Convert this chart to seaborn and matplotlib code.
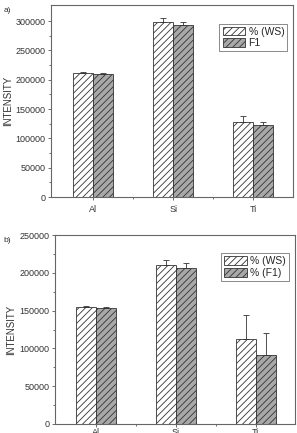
import seaborn as sns
import pandas as pd
import matplotlib
matplotlib.use("Agg")
import matplotlib.pyplot as plt

# element categories
elements = ["Al", "Si", "Ti"]

# panel a
a_series = ["% (WS)", "F1"]
a_ws = [211000, 298000, 128500]
a_f1 = [209700, 293000, 122300]
a_ws_err = [1500, 6500, 9000]
a_f1_err = [1500, 5500, 5000]

# panel b
b_series = ["% (WS)", "% (F1)"]
b_ws = [154800, 211000, 112800]
b_f1 = [153500, 206500, 90800]
b_ws_err = [1200, 6500, 31500]
b_f1_err = [1000, 6000, 30000]

sns.set_style("ticks")
plt.rcParams["font.family"] = ["Liberation Sans", "DejaVu Sans"]
plt.rcParams["hatch.linewidth"] = 0.6
plt.rcParams["hatch.color"] = "#333333"

fig = plt.figure(figsize=(2.97, 4.33), dpi=100)
ax_a = fig.add_axes([0.172, 0.545, 0.815, 0.443])
ax_b = fig.add_axes([0.185, 0.021, 0.808, 0.436])

colors = ["white", "#a8a8a8"]
HATCH = "/////"


def draw_panel(ax, series, ws, f1, ws_err, f1_err, ylim, yticks, xlim, tag, xpad):
    df = pd.DataFrame({
        "Element": elements * 2,
        "Series": [series[0]] * 3 + [series[1]] * 3,
        "Intensity": ws + f1,
    })
    sns.barplot(data=df, x="Element", y="Intensity", hue="Series",
                palette=colors, edgecolor="#333333", linewidth=0.6,
                width=0.5, errorbar=None, ax=ax)
    errs = ws_err + f1_err
    bars = ax.patches[:6]
    for patch, err in zip(bars, errs):
        patch.set_hatch(HATCH)
        cx = patch.get_x() + patch.get_width() / 2
        top = patch.get_height()
        ax.errorbar([cx], [top], yerr=[[0], [err]], fmt="none",
                    ecolor="#333333", elinewidth=0.6, capsize=2, capthick=0.6)
    ax.set_ylim(*ylim)
    ax.set_xlim(*xlim)
    ax.set_yticks(yticks)
    ax.set_yticklabels([str(t) for t in yticks])
    ax.set_yticks([t + (yticks[1] - yticks[0]) / 2 for t in yticks[:-1]], minor=True)
    ax.set_xticks([0.5, 1.5], minor=True)
    ax.tick_params(axis="both", labelsize=6.5, color="#555555", labelcolor="#333333",
                   width=0.6, length=2.5, pad=1.5)
    ax.tick_params(axis="x", which="major", direction="inout", length=5, pad=xpad)
    ax.tick_params(which="minor", length=1.5, width=0.6, color="#555555")
    ax.set_xlabel("")
    ax.set_ylabel("INTENSITY", fontsize=7, color="#333333", labelpad=2)
    for s in ax.spines.values():
        s.set_visible(True)
        s.set_color("#666666")
        s.set_linewidth(0.8)
    ax.legend(loc="upper right", bbox_to_anchor=(0.985, 0.915), fontsize=7.5,
              frameon=True, fancybox=False, edgecolor="#555555",
              handlelength=2.2, handleheight=0.9, handletextpad=0.3,
              labelspacing=0.15, borderpad=0.3, borderaxespad=0.2)
    leg = ax.get_legend()
    leg.get_frame().set_linewidth(0.6)
    for h in leg.legend_handles:
        h.set_hatch(HATCH)
    fig.text(0.012, ax.get_position().y1 - 0.004, tag, fontsize=6, color="#333333",
             va="top")


draw_panel(ax_a, a_series, a_ws, a_f1, a_ws_err, a_f1_err, (0, 327000),
           [0, 50000, 100000, 150000, 200000, 250000, 300000], (-0.525, 2.5), "a)", 3)
draw_panel(ax_b, b_series, b_ws, b_f1, b_ws_err, b_f1_err, (0, 250000),
           [0, 50000, 100000, 150000, 200000, 250000], (-0.51, 2.49), "b)", 0.5)

fig.savefig("out.png", dpi=100)
